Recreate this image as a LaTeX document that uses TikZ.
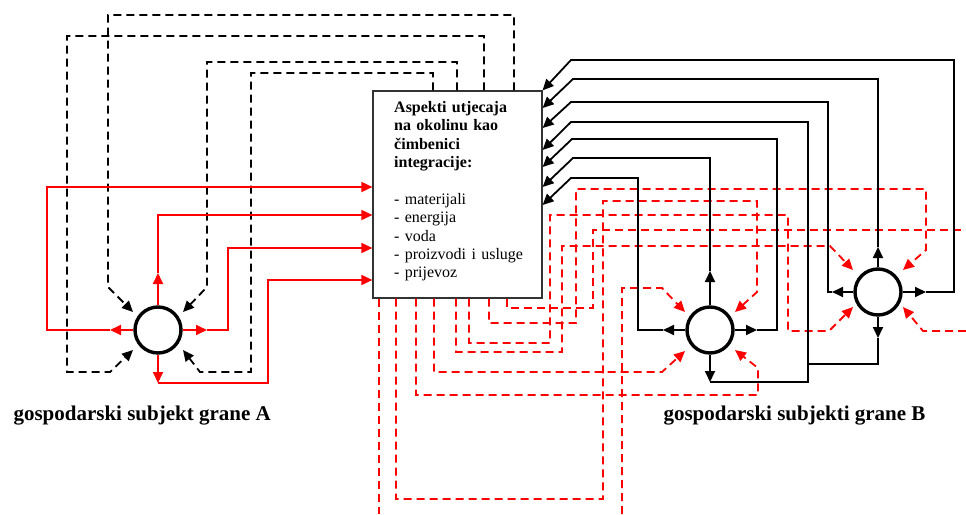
\documentclass[tikz,border=0pt]{standalone}
\usepackage{fontspec}
\setmainfont{Liberation Serif}
\usepackage{tikz}
\usetikzlibrary{arrows.meta}

\begin{document}
\begin{tikzpicture}[x=1pt,y=-1pt,>={Triangle[length=11pt,width=10pt]},
crt/.style={line width=1.8pt,red},
crn/.style={line width=1.8pt,black},
isp/.style={dash pattern=on 8pt off 5pt},
krug/.style={circle,draw,fill=white,line width=3.4pt,minimum size=46pt,inner sep=0pt},
okvir/.style={draw=black!80,line width=1.2pt,minimum width=169pt,minimum height=207pt,inner sep=0pt}]
\useasboundingbox(0,0)rectangle(966,514);
\node[okvir](box)at(457.5,194.5){};
\node[anchor=north west,text width=150pt,inner sep=0pt,align=left,font=\fontsize{16}{18.4}\selectfont](tekst)at(394,101)
{{\bfseries Aspekti utjecaja\\na okolinu kao\\čimbenici\\integracije:}\\[18.4pt]
- materijali\\- energija\\- voda\\- proizvodi i usluge\\- prijevoz};
\node[krug](A)at(158,330){};
\node[krug](B1)at(710,330){};
\node[krug](B2)at(878,292){};
\node[anchor=base west,font=\fontsize{21}{25}\selectfont\bfseries](natpisA)at(10,420){gospodarski subjekt grane A};
\node[anchor=base west,font=\fontsize{21}{25}\selectfont\bfseries](natpisB)at(660,420){gospodarski subjekti grane B};
\draw[crn,isp,->](514,0|-box.north)|-(108,15)--(108,287)--(133,312);
\draw[crn,isp,->](484,0|-box.north)|-(67,36)--(67,372)--(110,372)--(133,350);
\draw[crn,isp,->](457,0|-box.north)|-(207,62)--(207,287)--(183,312);
\draw[crn,isp,->](433,0|-box.north)|-(251,73)--(251,372)--(200,372)--(183,350);
\draw[crt,->](A.north)--(158,273);
\draw[crt,->](158,273)|-(box.west|-0,215);
\draw[crt,->](A.west)--(110,330);
\draw[crt,->](110,330)--(47,330)|-(box.west|-0,187);
\draw[crt,->](A.east)--(207,330);
\draw[crt,->](207,330)--(228,330)|-(box.west|-0,248);
\draw[crt,->](A.south)--(158,383);
\draw[crt,->](158,383)--(268,383)|-(box.west|-0,280);
\draw[crt,isp](379,0|-box.south)--(379,514);
\draw[crt,isp,->](396,0|-box.south)--(396,499)--(603,499)--(603,201)--(757,201)--(757,292)--(735,312);
\draw[crt,isp,->](416,0|-box.south)--(416,395)--(758,395)--(758,368)--(735,350);
\draw[crt,isp,->](434,0|-box.south)--(434,372)--(662,372)--(685,351);
\draw[crt,isp,->](456,0|-box.south)--(456,352)--(562,352)--(562,246)--(830,246)--(853,270);
\draw[crt,isp,->](469,0|-box.south)--(469,343)--(550,343)--(550,215)--(788,215)--(788,331)--(829,331)--(853,307);
\draw[crt,isp,->](489,0|-box.south)--(489,323)--(576,323)--(576,189)--(926,189)--(926,250)--(903,270);
\draw[crt,isp](507,0|-box.south)--(507,308)--(593,308)--(593,230)--(966,230);
\draw[crt,isp,->](622,514)--(622,288)--(662,288)--(685,312);
\draw[crt,isp,->](966,331)--(923,331)--(903,307);
\draw[crn,->](B1.north)--(710,271);
\draw[crn,->](710,271)|-(573,158)--(box.east|-0,187);
\draw[crn,->](B1.west)--(663,330);
\draw[crn,->](663,330)--(638,330)|-(571,178)--(box.east|-0,205);
\draw[crn,->](B1.east)--(757,330);
\draw[crn,->](757,330)--(777,330)|-(572,139)--(box.east|-0,167);
\draw[crn,->](B1.south)--(710,382);
\draw[crn,->](710,382)--(808,382)|-(571,122)--(box.east|-0,150);
\draw[crn,->](B2.north)--(878,247);
\draw[crn,->](878,247)|-(573,79)--(box.east|-0,108);
\draw[crn,->](B2.west)--(832,292);
\draw[crn,->](832,292)--(828,292)|-(571,102)--(box.east|-0,128);
\draw[crn,->](B2.east)--(926,292);
\draw[crn,->](926,292)--(954,292)|-(571,60)--(box.north east);
\draw[crn,->](B2.south)--(878,338);
\draw[crn](878,338)--(878,364)--(808,364);
\end{tikzpicture}
\end{document}
